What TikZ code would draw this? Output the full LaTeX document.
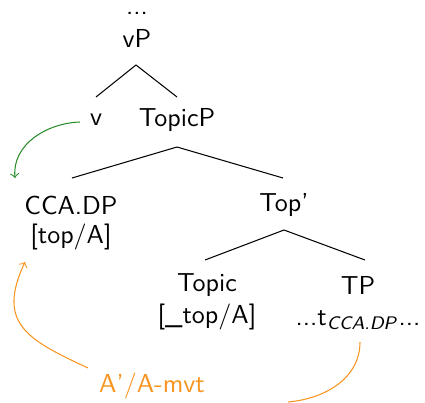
\documentclass[tikz,border=0pt]{standalone}
\renewcommand{\familydefault}{\sfdefault}
\definecolor{mvtorange}{RGB}{247,148,29}
\definecolor{headgreen}{RGB}{40,140,40}
\begin{document}
\begin{tikzpicture}[x=0.3846pt, y=-0.3846pt, color = {black}]
    \useasboundingbox (0,0) rectangle (425,402);
    % tree
    \node (dots) at (137,13) {...};
    \node (vp) at (137,38) {vP};
    \draw[black] (136,65) -- (96,97);
    \draw[black] (136,65) -- (177,97);
    \node (v) at (96,120) {v};
    \node (topicp) at (177,120) {TopicP};
    \draw[black] (177,147) -- (72,178);
    \draw[black] (177,147) -- (283,178);
    \node (cca) at (71,205) {CCA.DP};
    \node (ccaf) at (71,237) {[top/A]};
    \node (topbar) at (284,205) {Top'};
    \draw[black] (284,230) -- (205,260);
    \draw[black] (284,230) -- (365,260);
    \node (topic) at (207,285) {Topic};
    \node (topicf) at (207,317) {[\_top/A]};
    \node (tp) at (358,285) {TP};
    \node (trace) at (358,320) {...t\textsubscript{\textit{CCA.DP}}...};
    % movement
    \node[mvtorange] (mvt) at (152,386) {A'/A-mvt};
    \coordinate (vstart) at (80,122);
    \coordinate (vend) at (15,178);
    \coordinate (mvtstart) at (88,368);
    \coordinate (mvtend) at (25,262);
    \coordinate (tstart) at (360,342);
    \coordinate (tend) at (288,402);
    \draw[headgreen,->] (vstart) to[out=182,in=95] (vend);
    \draw[mvtorange,->] (mvtstart) to[out=155,in=-115,looseness=1.4] (mvtend);
    \draw[mvtorange] (tstart) to[out=-90,in=5] (tend);
\end{tikzpicture}
\end{document}
